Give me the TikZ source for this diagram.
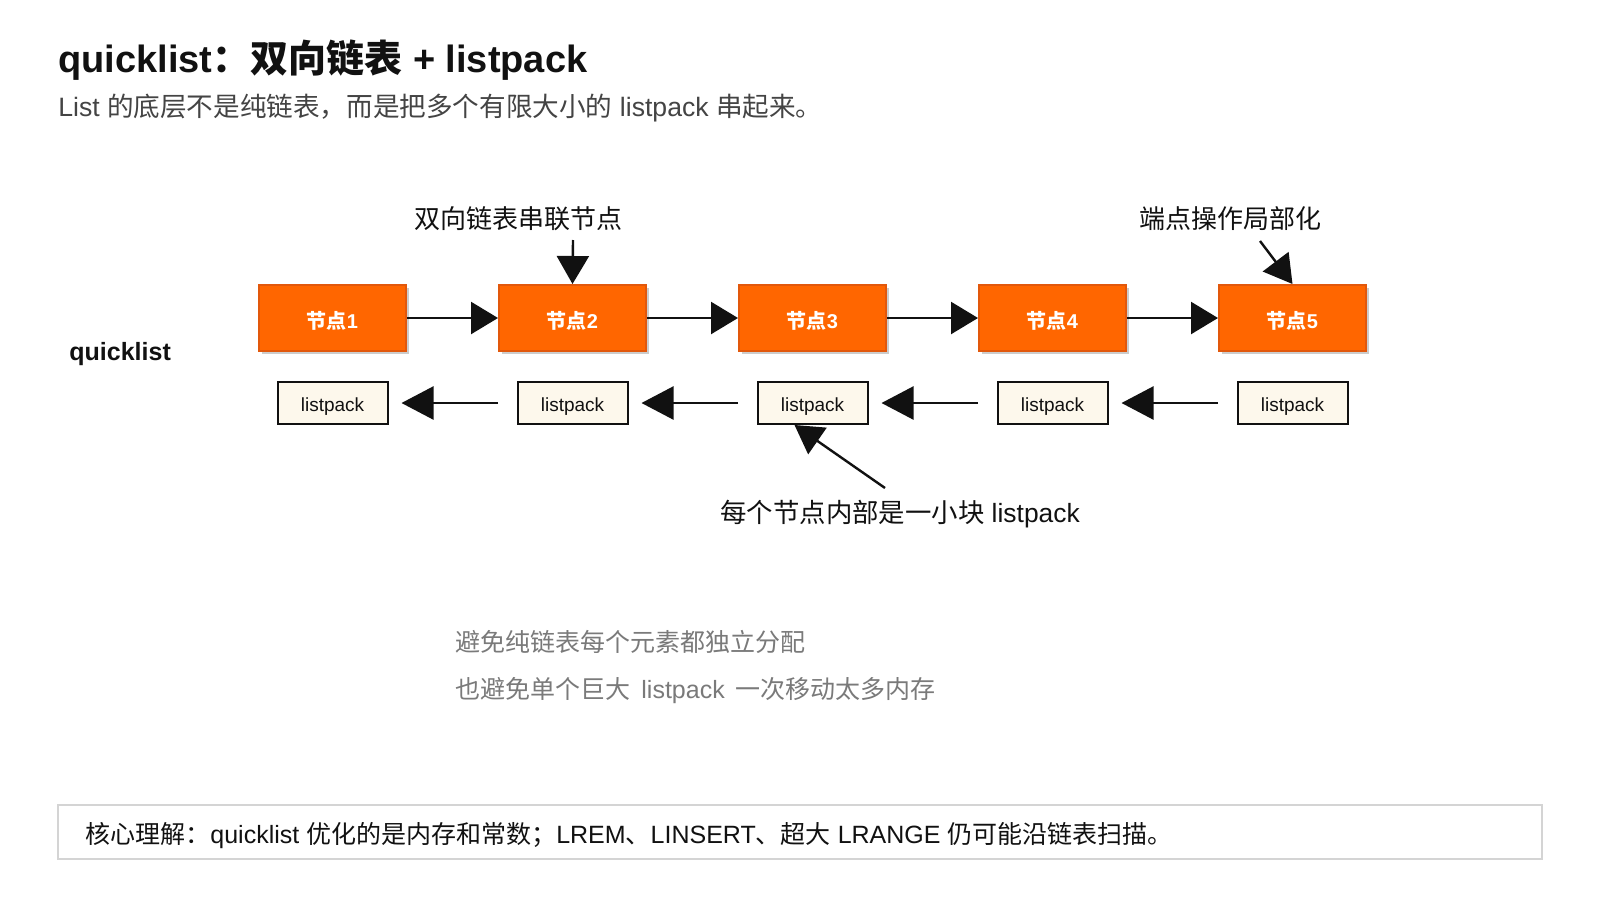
\documentclass[tikz,border=0pt]{standalone}
\usepackage{fontspec}
\setmainfont{Liberation Sans}
\newfontfamily\cjk{Noto Sans CJK SC}
\newcommand\zhs[1]{{\cjk #1}}
\usetikzlibrary{arrows.meta,shadows,calc}
\definecolor{nodeorange}{HTML}{FF6600}
\definecolor{nodeborder}{HTML}{E2580C}
\definecolor{lpfill}{HTML}{FDF8EC}
\definecolor{ink}{HTML}{111111}
\definecolor{subgray}{HTML}{444444}
\definecolor{notegray}{HTML}{7A7A7A}
\definecolor{boxgray}{HTML}{D4D4D4}
\tikzset{
  qnode/.style={draw=nodeborder, line width=1pt, fill=nodeorange, minimum width=73.5pt, minimum height=33pt, inner sep=0pt,
    text=white, font=\fontsize{10}{12}\selectfont\bfseries, text height=10.5pt, text depth=0pt,
    drop shadow={shadow xshift=1.5pt, shadow yshift=-1.5pt, opacity=0.2, fill=black}},
  lpbox/.style={draw=ink, line width=1pt, fill=lpfill, minimum width=55pt, minimum height=21pt, inner sep=0pt,
    text=ink, font=\fontsize{9.5}{11}\selectfont, text height=8pt, text depth=0pt},
  fwd/.style={draw=ink, line width=1.2pt, -{Triangle[length=13.5pt,width=16pt]}},
  bwd/.style={draw=ink, line width=1.2pt, -{Triangle[length=16pt,width=16.5pt]}},
  callout/.style={draw=ink, line width=1.2pt, -{Triangle[length=14pt,width=16pt]}},
  txt/.style={inner sep=0pt, anchor=base west},
  lbl/.style={inner sep=0pt, anchor=base, text=ink, font=\fontsize{13}{15}\selectfont},
}
\begin{document}
\begin{tikzpicture}[x=0.5pt,y=-0.5pt]
\useasboundingbox[fill=white] (0,0) rectangle (1600,900);

% title and subtitle
\node[txt, text=ink, font=\fontsize{19}{22}\selectfont\bfseries] (title) at (58,72)
  {quicklist\zhs{：双向链表} + listpack};
\node[txt, text=subgray, font=\fontsize{13.3}{16}\selectfont] (subtitle) at (58,116)
  {List \zhs{的底层不是纯链表，而是把多个有限大小的} listpack \zhs{串起来。}};

% side label
\node[txt, text=ink, font=\fontsize{12.5}{15}\selectfont\bfseries] (qlabel) at (69,360) {quicklist};

% quicklist nodes
\foreach \i in {1,...,5}{
  \node[qnode] (n\i) at ({332.5+240*(\i-1)},318) {\zhs{节点}\i};
  \node[lpbox] (lp\i) at ({332.5+240*(\i-1)},403) {listpack};
}

% forward arrows
\foreach \a/\b in {1/2,2/3,3/4,4/5}{
  \draw[fwd] (n\a.east) -- (n\b.west);
}
% backward arrows
\foreach \a/\b in {1/2,2/3,3/4,4/5}{
  \draw[bwd, shorten >=6.5pt] (n\b.west |- lp\a.east) -- (lp\a.east);
}

% callout labels
\node[lbl] (l1) at (518,228) {\zhs{双向链表串联节点}};
\coordinate (a1) at (573,240);
\draw[callout] (a1) -- (n2.north);

\node[lbl] (l2) at (1230,228) {\zhs{端点操作局部化}};
\coordinate (a2) at (1260,241);
\draw[callout] (a2) -- (n5.north);

\node[txt, text=ink, font=\fontsize{13.2}{15}\selectfont] (l3) at (720,522) {\zhs{每个节点内部是一小块} listpack};
\coordinate (a3) at (885,488);
\draw[callout] (a3) -- ([xshift=-9pt]lp3.south);

% gray notes
\node[txt, text=notegray, font=\fontsize{12.5}{15}\selectfont] (note1) at (455,651) {\zhs{避免纯链表每个元素都独立分配}};
\node[txt, text=notegray, font=\fontsize{12.5}{15}\selectfont] (note2) at (455,698) {\zhs{也避免单个巨大}\hspace{5.5pt}listpack\hspace{5.5pt}\zhs{一次移动太多内存}};

% bottom box
\draw[draw=boxgray, line width=1pt, fill=white] (58,805) rectangle (1542,859);
\node[txt, text=ink, font=\fontsize{12.5}{15}\selectfont] (bottom) at (85,843)
  {\zhs{核心理解：}quicklist \zhs{优化的是内存和常数；}LREM\zhs{、}LINSERT\zhs{、超大} LRANGE \zhs{仍可能沿链表扫描。}};
\end{tikzpicture}
\end{document}
